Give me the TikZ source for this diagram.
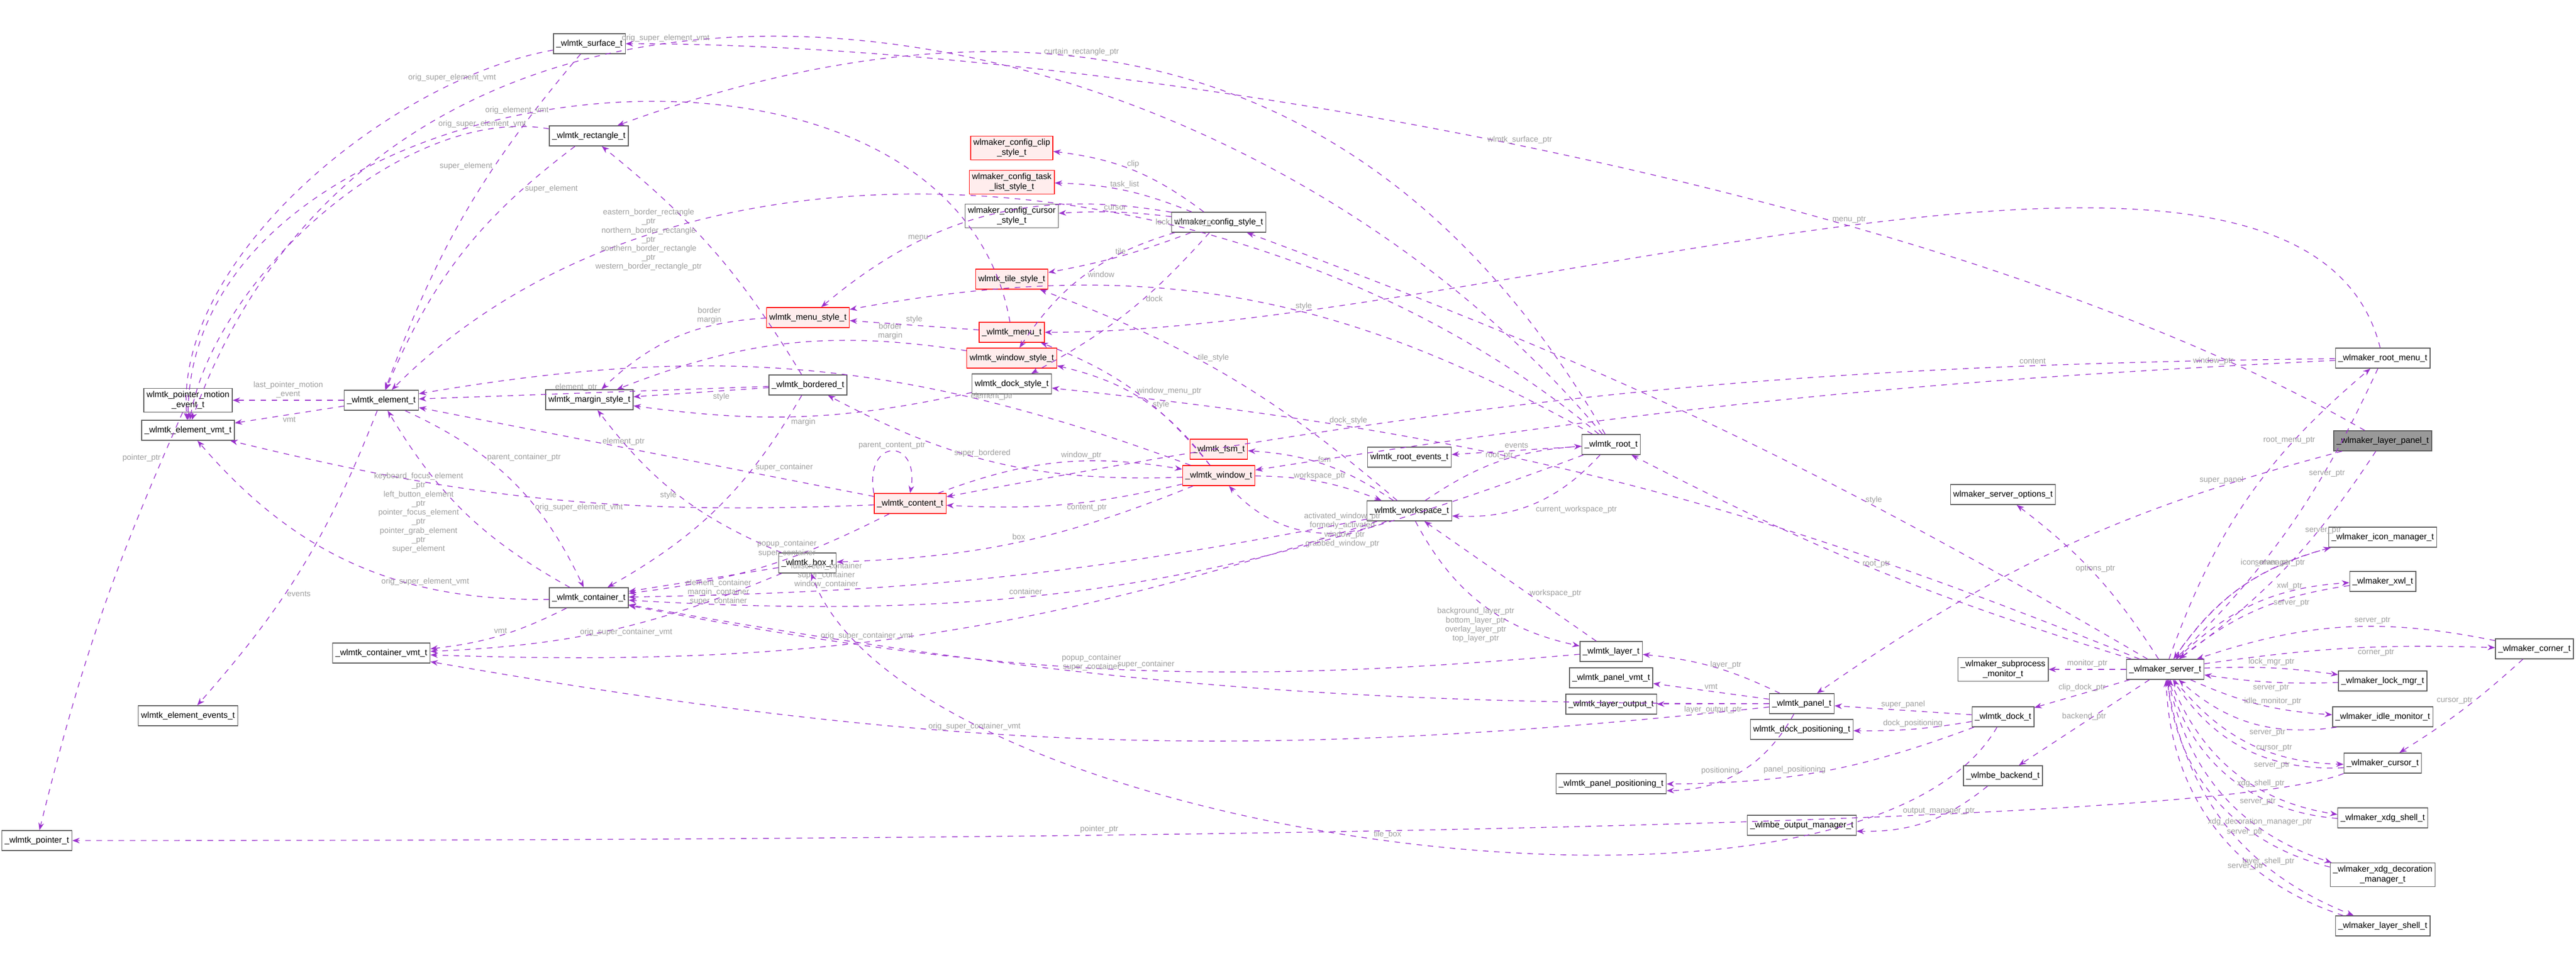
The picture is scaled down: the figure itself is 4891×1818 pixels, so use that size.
\documentclass[tikz,border=0pt]{standalone}
\usepackage{fontspec}
\setmainfont{Liberation Sans}
\usetikzlibrary{arrows.meta,positioning}
\definecolor{edgecol}{RGB}{154,50,205}
\definecolor{lblcol}{RGB}{158,158,158}
\tikzset{
  sbox/.style = {draw=gray!70!black, fill=white, inner sep=1.5pt, minimum height=0.38cm, align=center, font=\fontsize{4.6}{5.4}\selectfont},
  redbox/.style = {sbox, draw=red, fill=red!7},
  hibox/.style = {sbox, fill=gray!80},
  edge/.style = {draw=edgecol, dashed, -{Stealth[length=4pt,width=3pt]}, line width=0.4pt},
  lbl/.style = {text=lblcol, font=\fontsize{4.3}{4.9}\selectfont, align=center, inner sep=1pt}
}

\begin{document}
\begin{tikzpicture}[x=0.01cm, y=-0.01cm]
                \useasboundingbox (0,0) rectangle (4891,1818);
                % left column
                \node[sbox] (pme) at (357,760) {wlmtk\_pointer\_motion\\\_event\_t};
                \node[sbox] (evmt) at (357,817) {\_wlmtk\_element\_vmt\_t};
                \node[sbox] (events) at (357,1359) {wlmtk\_element\_events\_t};
                \node[sbox] (pointer) at (70,1596) {\_wlmtk\_pointer\_t};
                \node[sbox] (element) at (724,760) {\_wlmtk\_element\_t};
                \node[sbox] (cvmt) at (724,1240) {\_wlmtk\_container\_vmt\_t};
                \node[sbox] (surface) at (1119,83) {\_wlmtk\_surface\_t};
                \node[sbox] (rect) at (1118,258) {\_wlmtk\_rectangle\_t};
                \node[sbox] (margin) at (1119,759) {wlmtk\_margin\_style\_t};
                \node[sbox] (container) at (1118,1135) {\_wlmtk\_container\_t};
                \node[redbox] (menustyle) at (1534,603) {wlmtk\_menu\_style\_t};
                \node[sbox] (bordered) at (1534,731) {\_wlmtk\_bordered\_t};
                \node[sbox] (box) at (1533,1069) {\_wlmtk\_box\_t};
                \node[redbox] (content) at (1728,956) {\_wlmtk\_content\_t};
                % config and styles
                \node[redbox] (clip) at (1921,281) {wlmaker\_config\_clip\\\_style\_t};
                \node[redbox] (tasklist) at (1921,346) {wlmaker\_config\_task\\\_list\_style\_t};
                \node[sbox] (cursorstyle) at (1921,410) {wlmaker\_config\_cursor\\\_style\_t};
                \node[redbox] (tilestyle) at (1921,530) {wlmtk\_tile\_style\_t};
                \node[redbox] (menu) at (1921,631) {\_wlmtk\_menu\_t};
                \node[redbox] (winstyle) at (1921,680) {wlmtk\_window\_style\_t};
                \node[sbox] (dockstyle) at (1921,729) {wlmtk\_dock\_style\_t};
                \node[sbox] (config) at (2314,422) {wlmaker\_config\_style\_t};
                \node[redbox] (fsm) at (2314,853) {\_wlmtk\_fsm\_t};
                \node[redbox] (window) at (2314,903) {\_wlmtk\_window\_t};
                \node[sbox] (rootevents) at (2676,868) {wlmtk\_root\_events\_t};
                \node[sbox] (workspace) at (2676,970) {\_wlmtk\_workspace\_t};
                \node[sbox] (root) at (3059,844) {\_wlmtk\_root\_t};
                \node[sbox] (layer) at (3059,1237) {\_wlmtk\_layer\_t};
                \node[sbox] (panelvmt) at (3059,1287) {\_wlmtk\_panel\_vmt\_t};
                \node[sbox] (layerout) at (3059,1337) {\_wlmtk\_layer\_output\_t};
                \node[sbox] (panelpos) at (3059,1488) {\_wlmtk\_panel\_positioning\_t};
                % server side
                \node[sbox] (panel) at (3421,1336) {\_wlmtk\_panel\_t};
                \node[sbox] (dockpos) at (3421,1385) {wlmtk\_dock\_positioning\_t};
                \node[sbox] (outmgr) at (3421,1567) {\_wlmbe\_output\_manager\_t};
                \node[sbox] (options) at (3803,939) {wlmaker\_server\_options\_t};
                \node[sbox] (subproc) at (3803,1271) {\_wlmaker\_subprocess\\\_monitor\_t};
                \node[sbox] (dock) at (3803,1361) {\_wlmtk\_dock\_t};
                \node[sbox] (backend) at (3803,1473) {\_wlmbe\_backend\_t};
                \node[sbox] (server) at (4111,1271) {\_wlmaker\_server\_t};
                \node[sbox] (rootmenu) at (4524,680) {\_wlmaker\_root\_menu\_t};
                \node[hibox] (lpanel) at (4524,837) {\_wlmaker\_layer\_panel\_t};
                \node[sbox] (iconmgr) at (4524,1020) {\_wlmaker\_icon\_manager\_t};
                \node[sbox] (xwl) at (4524,1104) {\_wlmaker\_xwl\_t};
                \node[sbox] (corner) at (4812,1232) {\_wlmaker\_corner\_t};
                \node[sbox] (lockmgr) at (4524,1293) {\_wlmaker\_lock\_mgr\_t};
                \node[sbox] (idle) at (4524,1361) {\_wlmaker\_idle\_monitor\_t};
                \node[sbox] (cursor) at (4524,1449) {\_wlmaker\_cursor\_t};
                \node[sbox] (xdgshell) at (4524,1553) {\_wlmaker\_xdg\_shell\_t};
                \node[sbox] (xdgdeco) at (4524,1661) {\_wlmaker\_xdg\_decoration\\\_manager\_t};
                \node[sbox] (lshell) at (4524,1758) {\_wlmaker\_layer\_shell\_t};

                % element level
                \draw[edge] (element) -- node[lbl, above] {last\_pointer\_motion\\\_event} (pme);
                \draw[edge] (element) -- node[lbl, below] {vmt} (evmt);
                \draw[edge] (element) to[bend left=10] node[lbl, pos=0.6, right] {events} (events);
                \draw[edge] (pme) to[bend right=5] node[lbl, pos=0.1, left] {pointer\_ptr} (pointer);
                \draw[edge] (surface) to[out=190, in=95, looseness=0.8] node[lbl, pos=0.2, above] {orig\_super\_element\_vmt} (evmt);
                \draw[edge] (surface) to[bend right=10] node[lbl, pos=0.35, left] {super\_element} (element);
                \draw[edge] (rect) to[out=170, in=80, looseness=0.8] node[lbl, pos=0.15, above] {orig\_super\_element\_vmt} (evmt);
                \draw[edge] (rect) to[bend right=15] node[lbl, pos=0.2, right] {super\_element} (element);
                \draw[edge] (menu) to[out=100, in=90, looseness=1.1] node[lbl, pos=0.55, above] {orig\_element\_vmt} (evmt);
                \draw[edge] (root) to[out=130, in=70, looseness=1.1] node[lbl, pos=0.6, above] {orig\_super\_element\_vmt} (evmt);
                \draw[edge] (root) to[out=120, in=20, looseness=1.1] node[lbl, pos=0.6, above] {curtain\_rectangle\_ptr} (rect);
                \draw[edge] (root) to[out=140, in=45, looseness=0.9] node[lbl, pos=0.35, above] {lock\_element\_ptr} (element);
                \draw[edge] (lpanel) to[out=150, in=0, looseness=0.7] node[lbl, pos=0.5, above] {wlmtk\_surface\_ptr} (surface);
                \draw[edge] (bordered) to[bend right=10] node[lbl, pos=0.55, left] {eastern\_border\_rectangle\\\_ptr\\northern\_border\_rectangle\\\_ptr\\southern\_border\_rectangle\\\_ptr\\western\_border\_rectangle\_ptr} (rect);
                \draw[edge] (bordered) -- node[lbl, above, pos=0.55] {element\_ptr} (element);
                \draw[edge] (bordered) -- node[lbl, below, pos=0.35] {style} (margin);
                \draw[edge] (bordered) to[bend left=15] node[lbl, pos=0.3, right] {super\_container} (container);
                \draw[edge] (menustyle) to[bend right=20] node[lbl, pos=0.3, above] {border\\margin} (margin);
                \draw[edge] (winstyle) to[bend right=15] node[lbl, pos=0.2, above] {border\\margin} (margin);
                \draw[edge] (dockstyle) to[bend left=10] node[lbl, pos=0.5, below] {margin} (margin);
                \draw[edge] (content) -- node[lbl, pos=0.55, above] {element\_ptr} (element);
                \draw[edge] (window) to[bend right=15] node[lbl, pos=0.25, above] {element\_ptr} (element);
                \draw[edge] (content) to[bend left=8] node[lbl, pos=0.45, below] {orig\_super\_element\_vmt} (evmt);
                \draw[edge] (element) to[bend left=20] node[lbl, pos=0.35, right] {parent\_container\_ptr} (container);
                \draw[edge] (container) to[bend left=15] node[lbl, pos=0.5, left] {keyboard\_focus\_element\\\_ptr\\left\_button\_element\\\_ptr\\pointer\_focus\_element\\\_ptr\\pointer\_grab\_element\\\_ptr\\super\_element} (element);
                \draw[edge] (container) to[bend left=25] node[lbl, pos=0.3, above] {orig\_super\_element\_vmt} (evmt);
                \draw[edge] (container) to[bend left=10] node[lbl, above] {vmt} (cvmt);
                \draw[edge] (box) -- node[lbl, pos=0.4, below] {element\_container\\margin\_container\\super\_container} (container);
                \draw[edge] (box) to[bend left=10] node[lbl, pos=0.45, below] {orig\_super\_container\_vmt} (cvmt);
                \draw[edge] (box) to[bend left=15] node[lbl, pos=0.5, left] {style} (margin);
                \draw[edge] (content) to[bend left=10] node[lbl, pos=0.4, above] {popup\_container\\super\_container} (container);
                \draw[edge] (content.north west) to[out=100, in=80, looseness=4] node[lbl, above] {parent\_content\_ptr} (content.north);
                % window level
                \draw[edge] (window) to[bend left=8] node[lbl, pos=0.4, below] {content\_ptr} (content);
                \draw[edge] (content) to[bend left=15] node[lbl, pos=0.6, above] {window\_ptr} (window);
                \draw[edge] (window) to[bend left=10] node[lbl, pos=0.5, above] {box} (box);
                \draw[edge] (window) to[bend left=15] node[lbl, pos=0.55, above] {super\_bordered} (bordered);
                \draw[edge] (window) to[bend right=15] node[lbl, pos=0.5, right] {window\_menu\_ptr} (menu);
                \draw[edge] (window) to[bend right=20] node[lbl, pos=0.45, right] {style} (winstyle);
                \draw[edge] (menu) -- node[lbl, above] {style} (menustyle);
                \draw[edge] (window) to[bend left=10] node[lbl, above] {workspace\_ptr} (workspace);
                \draw[edge] (workspace) to[bend left=35] node[lbl, pos=0.5, right] {activated\_window\_ptr\\formerly\_activated\\\_window\_ptr\\grabbed\_window\_ptr} (window);
                \draw[edge] (workspace) to[bend right=15] node[lbl, pos=0.5, above] {fsm} (fsm);
                \draw[edge] (workspace) to[bend right=10] node[lbl, pos=0.6, right] {tile\_style} (tilestyle);
                \draw[edge] (config) to[bend right=15] node[lbl, above] {clip} (clip);
                \draw[edge] (config) to[bend right=10] node[lbl, above] {task\_list} (tasklist);
                \draw[edge] (config) to[bend right=5] node[lbl, above] {cursor} (cursorstyle);
                \draw[edge] (config) to[bend left=5] node[lbl, above] {tile} (tilestyle);
                \draw[edge] (config) to[bend right=25] node[lbl, pos=0.7, above] {menu} (menustyle);
                \draw[edge] (config) to[bend right=20] node[lbl, pos=0.5, right] {window} (winstyle);
                \draw[edge] (config) to[bend left=10] node[lbl, pos=0.4, right] {dock} (dockstyle);
                % root and workspace
                \draw[edge] (root) -- node[lbl, above] {events} (rootevents);
                \draw[edge] (workspace) to[bend left=15] node[lbl, pos=0.5, above] {root\_ptr} (root);
                \draw[edge] (root) to[bend left=25] node[lbl, pos=0.5, below right] {current\_workspace\_ptr} (workspace);
                \draw[edge] (root) to[bend left=12] node[lbl, pos=0.6, above] {container} (container);
                \draw[edge] (workspace) to[bend left=5] node[lbl, pos=0.75, above] {fullscreen\_container\\super\_container\\window\_container} (container);
                \draw[edge] (workspace) to[bend left=10] node[lbl, pos=0.55, above] {orig\_super\_container\_vmt} (cvmt);
                \draw[edge] (workspace) to[bend right=25] node[lbl, pos=0.7, left] {background\_layer\_ptr\\bottom\_layer\_ptr\\overlay\_layer\_ptr\\top\_layer\_ptr} (layer);
                \draw[edge] (layer) -- node[lbl, pos=0.4, right] {workspace\_ptr} (workspace);
                \draw[edge] (layer) to[bend left=8] node[lbl, pos=0.45, above] {super\_container} (container);
                \draw[edge] (panel) to[bend right=10] node[lbl, pos=0.4, above] {layer\_ptr} (layer);
                \draw[edge] (panel) -- node[lbl, above] {vmt} (panelvmt);
                \draw[edge] (panel) -- node[lbl, below] {layer\_output\_ptr} (layerout);
                \draw[edge] (panel) to[bend left=30] node[lbl, pos=0.5, left] {positioning} (panelpos);
                \draw[edge] (panel) to[bend left=5] node[lbl, pos=0.6, above] {popup\_container\\super\_container} (container);
                \draw[edge] (panel) to[bend left=8] node[lbl, pos=0.6, above] {orig\_super\_container\_vmt} (cvmt);
                \draw[edge] (root) to[bend right=20] node[lbl, pos=0.4, above] {style} (menustyle);
                \draw[edge] (rootmenu) to[bend right=3] node[lbl, pos=0.1, above] {window\_ptr} (window);
                \draw[edge] (rootmenu) .. controls +(-150,-600) and +(900,0) .. node[lbl, pos=0.5, above] {menu\_ptr} (menu);
                \draw[edge] (rootmenu) to[bend right=5] node[lbl, pos=0.2, above] {content} (content);
                % server
                \draw[edge] (server) to[bend right=5] node[lbl, pos=0.3, above] {style} (config);
                \draw[edge] (server) to[bend right=8] node[lbl, pos=0.75, above] {dock\_style} (dockstyle);
                \draw[edge] (server) to[bend left=5] node[lbl, pos=0.5, above] {root\_ptr} (root);
                \draw[edge] (server) to[bend right=10] node[lbl, above] {options\_ptr} (options);
                \draw[edge] (server) -- node[lbl, above] {monitor\_ptr} (subproc);
                \draw[edge] (server) -- node[lbl, above] {clip\_dock\_ptr} (dock);
                \draw[edge] (server) -- node[lbl, above] {backend\_ptr} (backend);
                \draw[edge] (backend) to[bend left=20] node[lbl, pos=0.4, above] {output\_manager\_ptr} (outmgr);
                \draw[edge] (dock) -- node[lbl, above] {super\_panel} (panel);
                \draw[edge] (dock) to[bend left=5] node[lbl, above] {dock\_positioning} (dockpos);
                \draw[edge] (dock) to[bend left=10] node[lbl, pos=0.6, above] {panel\_positioning} (panelpos);
                \draw[edge] (dock) to[out=240, in=290, looseness=0.6] node[lbl, pos=0.5, above] {tile\_box} (box);
                \draw[edge] (lpanel) to[bend right=10] node[lbl, pos=0.2, above] {super\_panel} (panel);
                \draw[edge] (lpanel) to[bend left=10] node[lbl, pos=0.3, below] {server\_ptr} (server);
                \draw[edge] (rootmenu) to[bend left=10] node[lbl, pos=0.3, below] {server\_ptr} (server);
                \draw[edge] (server) to[bend left=15] node[lbl, pos=0.7, above] {root\_menu\_ptr} (rootmenu);
                \draw[edge] (iconmgr) to[bend right=20] node[lbl, pos=0.3, above] {server\_ptr} (server);
                \draw[edge] (server) to[bend left=20] node[lbl, pos=0.7, above] {icon\_manager\_ptr} (iconmgr);
                \draw[edge] (server) to[bend left=20] node[lbl, pos=0.7, above] {xwl\_ptr} (xwl);
                \draw[edge] (xwl) to[bend right=15] node[lbl, pos=0.3, below] {server\_ptr} (server);
                \draw[edge] (corner) to[bend right=15] node[lbl, pos=0.4, above] {server\_ptr} (server);
                \draw[edge] (server) to[bend left=5] node[lbl, pos=0.6, below] {corner\_ptr} (corner);
                \draw[edge] (server) to[bend left=5] node[lbl, pos=0.5, above] {lock\_mgr\_ptr} (lockmgr);
                \draw[edge] (lockmgr) to[bend left=5] node[lbl, pos=0.5, below] {server\_ptr} (server);
                \draw[edge] (server) to[bend right=10] node[lbl, pos=0.6, above] {idle\_monitor\_ptr} (idle);
                \draw[edge] (idle) to[bend left=25] node[lbl, pos=0.4, below] {server\_ptr} (server);
                \draw[edge] (server) to[bend right=25] node[lbl, pos=0.65, above] {cursor\_ptr} (cursor);
                \draw[edge] (cursor) to[bend left=30] node[lbl, pos=0.35, below] {server\_ptr} (server);
                \draw[edge] (corner) to[bend left=5] node[lbl, pos=0.4, left] {cursor\_ptr} (cursor);
                \draw[edge] (server) to[bend right=30] node[lbl, pos=0.65, above] {xdg\_shell\_ptr} (xdgshell);
                \draw[edge] (xdgshell) to[bend left=35] node[lbl, pos=0.35, below] {server\_ptr} (server);
                \draw[edge] (server) to[bend right=30] node[lbl, pos=0.7, above] {xdg\_decoration\_manager\_ptr} (xdgdeco);
                \draw[edge] (xdgdeco) to[bend left=35] node[lbl, pos=0.35, below] {server\_ptr} (server);
                \draw[edge] (server) to[bend right=30] node[lbl, pos=0.7, above] {layer\_shell\_ptr} (lshell);
                \draw[edge] (lshell) to[bend left=35] node[lbl, pos=0.35, below] {server\_ptr} (server);
                \draw[edge] (cursor.south west) .. controls +(-300,120) and +(1200,0) .. node[lbl, pos=0.6, above] {pointer\_ptr} (pointer.east);
\end{tikzpicture}
\end{document}
